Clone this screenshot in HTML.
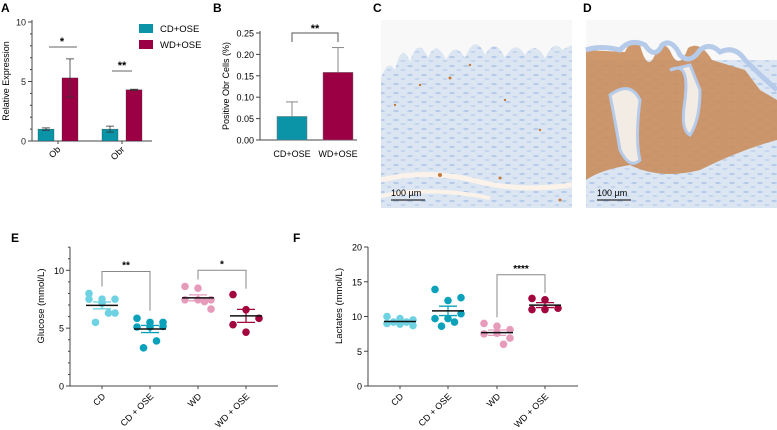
<!DOCTYPE html>
<html><head><meta charset="utf-8">
<style>
html,body{margin:0;padding:0;background:#fff;}
svg{display:block;font-family:"Liberation Sans",Arial,sans-serif;}
</style></head>
<body>
<svg id="fig" width="777" height="430" viewBox="0 0 777 430">
<defs>
<pattern id="tissue" width="14" height="9" patternUnits="userSpaceOnUse">
<rect width="14" height="9" fill="#dce6f3"/>
<ellipse cx="4" cy="3" rx="3" ry="1.1" fill="#b6cbea"/>
<ellipse cx="11" cy="7" rx="2.5" ry="1" fill="#c2d4ee"/>
</pattern>
</defs>
<!-- panel letters -->
<text x="1" y="12" font-size="12" font-weight="bold">A</text>
<text x="213" y="12" font-size="12" font-weight="bold">B</text>
<text x="373" y="12" font-size="12" font-weight="bold">C</text>
<text x="583" y="12" font-size="12" font-weight="bold">D</text>
<text x="11" y="242" font-size="12" font-weight="bold">E</text>
<text x="293" y="242" font-size="12" font-weight="bold">F</text>

<!-- C image -->
<g>
<rect x="381" y="20" width="191" height="188" fill="#f8f8f8"/>
<path d="M381,78 Q388,58 395,70 Q402,40 410,62 Q418,35 428,58 Q436,38 446,60 Q455,40 465,58 Q475,32 485,55 Q495,36 505,58 Q515,38 525,55 Q535,40 545,58 Q555,38 562,50 L572,45 L572,208 L381,208 Z" fill="url(#tissue)"/>
<path d="M381,180 Q430,168 480,182 Q520,192 572,185" stroke="#fbf3ea" stroke-width="5" fill="none"/>
<path d="M381,196 Q430,186 490,198" stroke="#fbf3ea" stroke-width="4" fill="none"/>
<g fill="#c47a3a"><circle cx="450" cy="78" r="1.5"/><circle cx="420" cy="85" r="1.2"/><circle cx="505" cy="100" r="1.2"/><circle cx="440" cy="175" r="2"/><circle cx="500" cy="178" r="1.5"/><circle cx="540" cy="130" r="1.2"/><circle cx="560" cy="200" r="1.5"/><circle cx="395" cy="105" r="1.2"/><circle cx="470" cy="65" r="1.2"/></g>
<line x1="391" y1="200" x2="425" y2="200" stroke="#000" stroke-width="1"/>
<text x="391" y="196" font-size="9">100 µm</text>
</g>
<!-- D image -->
<g>
<rect x="586" y="20" width="191" height="188" fill="#f8f8f8"/>
<rect x="586" y="60" width="191" height="148" fill="url(#tissue)"/>
<path d="M586,50 L625,52 Q630,40 640,45 Q648,75 656,52 Q665,38 672,55 Q680,70 688,48 Q700,40 712,60 L745,70 L760,90 L777,100 L777,140 Q740,150 700,170 Q660,180 630,165 Q600,170 586,180 Z" fill="#c98d5c" opacity="0.9"/>
<path d="M610,95 Q630,80 640,100 Q635,140 640,160 Q630,170 620,150 Q615,120 610,95 Z" fill="#f3ece4" stroke="#b6cbea" stroke-width="3"/>
<path d="M670,70 Q690,60 685,100 Q680,130 690,135 Q700,120 700,90 L690,65 Z" fill="#f3ece4" stroke="#b6cbea" stroke-width="3"/>
<path d="M586,50 Q600,45 620,50 Q630,38 645,45 Q655,60 662,45 Q672,38 680,55 Q690,65 700,50 Q710,42 720,52 Q735,45 745,60 Q760,75 777,90" stroke="#b6cbea" stroke-width="5" fill="none"/>
<line x1="597" y1="200" x2="631" y2="200" stroke="#000" stroke-width="1"/>
<text x="597" y="196" font-size="9">100 µm</text>
</g>

<g id="charts"></g>
</svg>
<script>
// Panel A data
const aCategories = ["Ob", "Obr"];
const aCD = [1.0, 1.0];
const aCDerr = [0.1, 0.25];
const aWD = [5.3, 4.3];
const aWDerr = [1.6, 0.05];
const aTicks = [0, 5, 10];
// Panel B data
const bCategories = ["CD+OSE", "WD+OSE"];
const bValues = [0.055, 0.158];
const bErr = [0.034, 0.058];
const bTicks = ["0.00", "0.05", "0.10", "0.15", "0.20", "0.25"];
// Panel E data
const eCategories = ["CD", "CD + OSE", "WD", "WD + OSE"];
const eCD = [8.0, 7.5, 7.5, 7.5, 7.15, 6.3, 6.3, 5.5];
const eCDOSE = [5.85, 5.5, 5.5, 5.1, 5.1, 5.15, 3.9, 3.3];
const eWD = [8.6, 8.45, 7.45, 7.45, 7.45, 6.65, 7.3];
const eWDOSE = [7.9, 6.6, 5.85, 5.3, 4.65];
const eTicks = [0, 5, 10];
// Panel F data
const fCategories = ["CD", "CD + OSE", "WD", "WD + OSE"];
const fCD = [10.0, 9.7, 9.5, 9.0, 8.9, 8.7, 9.2, 9.2];
const fCDOSE = [13.9, 12.3, 12.7, 9.7, 9.7, 10.4, 9.2, 8.6];
const fWD = [9.0, 8.6, 8.1, 7.5, 7.6, 6.9, 6.0];
const fWDOSE = [12.6, 12.4, 11.2, 11.0, 11.0];
const fTicks = [0, 5, 10, 15, 20];

const NS = "http://www.w3.org/2000/svg";
const root = document.getElementById("charts");
function mk(tag, attrs, parent, txt) {
  const e = document.createElementNS(NS, tag);
  for (const k in attrs) e.setAttribute(k, attrs[k]);
  if (txt !== undefined) e.textContent = txt;
  (parent || root).appendChild(e);
  return e;
}
function line(x1, y1, x2, y2, c, w, p) { return mk("line", {x1, y1, x2, y2, stroke: c || "#333", "stroke-width": w || 1}, p); }
function mean(a) { return a.reduce((s, v) => s + v, 0) / a.length; }
function sem(a) { const m = mean(a); const sd = Math.sqrt(a.reduce((s, v) => s + (v - m) * (v - m), 0) / (a.length - 1)); return sd / Math.sqrt(a.length); }

// ---------- Panel A ----------
(function () {
  const g = mk("g", {});
  
  
  const y = v => 141 - v * 11.9;
  const cx = [58, 122];
  line(32, 141, 152, 141, "#444", 1, g);
  line(32, 20, 32, 141, "#444", 1, g);
  for (let v = 0; v <= 10; v++) line(v % 5 === 0 ? 28 : 30, y(v), 32, y(v), "#444", 1, g);
  aTicks.forEach(t => {
    const tx = mk("text", {x: 26, y: y(t) + 3.5, "font-size": 9, "text-anchor": "end", fill: "#222"}, g, t);
    
    
  });
  const yt = mk("text", {x: 0, y: 0, "font-size": 9, "text-anchor": "middle", transform: "translate(9,81) rotate(-90)"}, g, "Relative Expression");
  
  
  aCategories.forEach((c, i) => {
    [[aCD, aCDerr, "#0b94a8", -12], [aWD, aWDerr, "#9b0045", 12]].forEach(([vals, errs, col, off]) => {
      const x = cx[i] + off;
      const r = mk("rect", {x: x - 8, y: y(vals[i]), width: 16, height: 141 - y(vals[i]), fill: col, stroke: "#333", "stroke-width": 0.3}, g);
      
      
      line(x, y(vals[i] - errs[i]), x, y(vals[i] + errs[i]), "#333", 0.8, g);
      line(x - 4, y(vals[i] + errs[i]), x + 4, y(vals[i] + errs[i]), "#333", 0.8, g);
      line(x - 4, y(vals[i] - errs[i]), x + 4, y(vals[i] - errs[i]), "#333", 0.8, g);
    });
    line(cx[i], 141, cx[i], 144, "#444", 1, g);
    const xl = mk("text", {x: 0, y: 0, "font-size": 9, "text-anchor": "end", transform: `translate(${cx[i] + 3},150) rotate(-45)`}, g, c);
    
    
  });
  line(49, 47, 77, 47, "#333", 0.8, g);
  mk("text", {x: 62, y: 45, "font-size": 11, "text-anchor": "middle", "font-weight": "bold"}, g, "*");
  line(112, 71, 132, 71, "#333", 0.8, g);
  mk("text", {x: 122, y: 69, "font-size": 11, "text-anchor": "middle", "font-weight": "bold"}, g, "**");
  [["CD+OSE", "#0b94a8", 24], ["WD+OSE", "#9b0045", 40]].forEach(([t, col, yy]) => {
    const lg = mk("g", {}, g);
    
    
    mk("rect", {x: 139, y: yy, width: 14, height: 9, fill: col}, lg);
    mk("text", {x: 160, y: yy + 8, "font-size": 9.5}, lg, t);
  });
})();

// ---------- Panel B ----------
(function () {
  const g = mk("g", {});
  
  
  const y = v => 140 - v / 0.25 * 107;
  const cx = [292, 338];
  line(260, 140, 357, 140, "#444", 1, g);
  line(260, 31, 260, 140, "#444", 1, g);
  bTicks.forEach(t => {
    const v = parseFloat(t);
    line(256, y(v), 260, y(v), "#444", 1, g);
    const tx = mk("text", {x: 254, y: y(v) + 3.5, "font-size": 9, "text-anchor": "end"}, g, t);
    
    
  });
  const yt = mk("text", {x: 0, y: 0, "font-size": 9, "text-anchor": "middle", transform: "translate(229,86) rotate(-90)"}, g, "Positive Obr Cells (%)");
  
  
  const cols = ["#0b94a8", "#9b0045"];
  bCategories.forEach((c, i) => {
    const v = bValues[i], e = bErr[i];
    line(cx[i], y(v), cx[i], y(v + e), "#888", 1, g);
    line(cx[i] - 6, y(v + e), cx[i] + 6, y(v + e), "#888", 1, g);
    const r = mk("rect", {x: cx[i] - 15, y: y(v), width: 30, height: 140 - y(v), fill: cols[i], stroke: "#777", "stroke-width": 0.5}, g);
    
    
    const xl = mk("text", {x: cx[i], y: 157, "font-size": 9, "text-anchor": "middle"}, g, c);
    
    
  });
  mk("path", {d: `M${cx[0]},42 V33 H${cx[1]} V42`, fill: "none", stroke: "#555", "stroke-width": 1}, g);
  mk("text", {x: 315, y: 32, "font-size": 11, "text-anchor": "middle", "font-weight": "bold"}, g, "**");
})();

// ---------- Dot plots ----------
function dotPlot(opts) {
  const g = mk("g", {});
  
  
  const y = v => opts.y0 - v * opts.k;
  line(opts.ax, opts.y0, opts.axEnd, opts.y0, "#444", 1, g);
  line(opts.ax, y(opts.max), opts.ax, opts.y0, "#444", 1, g);
  for (let v = 0; v <= opts.max; v += opts.minor) line(opts.ax - (v % opts.major === 0 ? 4 : 2), y(v), opts.ax, y(v), "#444", 1, g);
  opts.ticks.forEach(t => {
    const tx = mk("text", {x: opts.ax - 6, y: y(t) + 3.5, "font-size": 9, "text-anchor": "end"}, g, t);
    
    
  });
  const yt = mk("text", {x: 0, y: 0, "font-size": 9.5, "text-anchor": "middle", transform: `translate(${opts.ax - 26},${opts.y0 - 80}) rotate(-90)`}, g, opts.title);
  
  
  const offs = [-13, 0, 13, -13, 0, 13, 6.5, -6.5];
  opts.series.forEach((s, i) => {
    const cx = opts.cx[i];
    const m = mean(s), se = sem(s);
    s.forEach((v, j) => {
      const c = mk("circle", {cx: cx + offs[j % offs.length], cy: y(v), r: 3.8, fill: opts.colors[i]}, g);
      
      
    });
    line(cx - 9, y(m + se), cx + 9, y(m + se), opts.colors[i], 1.3, g);
    line(cx - 9, y(m - se), cx + 9, y(m - se), opts.colors[i], 1.3, g);
    line(cx, y(m - se), cx, y(m + se), opts.colors[i], 1.3, g);
    const ml = line(cx - 16, y(m), cx + 16, y(m), "#111", 1.5, g);
    
    
    line(cx, opts.y0, cx, opts.y0 + 3, "#444", 1, g);
    const xl = mk("text", {x: 0, y: 0, "font-size": 9, "text-anchor": "end", transform: `translate(${cx + 4},${opts.y0 + 11}) rotate(-45)`}, g, opts.cats[i]);
    
    
  });
  opts.brackets.forEach(b => {
    const x1 = opts.cx[b.a], x2 = opts.cx[b.b];
    mk("path", {d: `M${x1},${y(b.d1)} V${y(b.top)} H${x2} V${y(b.d2)}`, fill: "none", stroke: "#888", "stroke-width": 1}, g);
    mk("text", {x: (x1 + x2) / 2, y: y(b.top) - 3, "font-size": 10, "text-anchor": "middle", "font-weight": "bold"}, g, b.label);
  });
}
const cols4 = ["#6fd2e2", "#0aa2bb", "#e69bbb", "#a3053f"];
dotPlot({name: "chart-e", prefix: "e", ax: 70, axEnd: 278, y0: 386, k: 11.57, max: 12, minor: 1, major: 5,
  ticks: eTicks, title: "Glucose (mmol/L)", cx: [102, 150, 198, 246], cats: eCategories,
  series: [eCD, eCDOSE, eWD, eWDOSE], colors: cols4,
  brackets: [{a: 0, b: 1, top: 9.9, d1: 8.6, d2: 6.5, label: "**"}, {a: 2, b: 3, top: 10.0, d1: 9.2, d2: 8.4, label: "*"}]});
dotPlot({name: "chart-f", prefix: "f", ax: 368, axEnd: 578, y0: 386, k: 6.95, max: 20, minor: 5, major: 5,
  ticks: fTicks, title: "Lactates (mmol/L)", cx: [400, 448, 497, 545], cats: fCategories,
  series: [fCD, fCDOSE, fWD, fWDOSE], colors: cols4,
  brackets: [{a: 2, b: 3, top: 16, d1: 9.9, d2: 13.4, label: "****"}]});
</script>
</body></html>
